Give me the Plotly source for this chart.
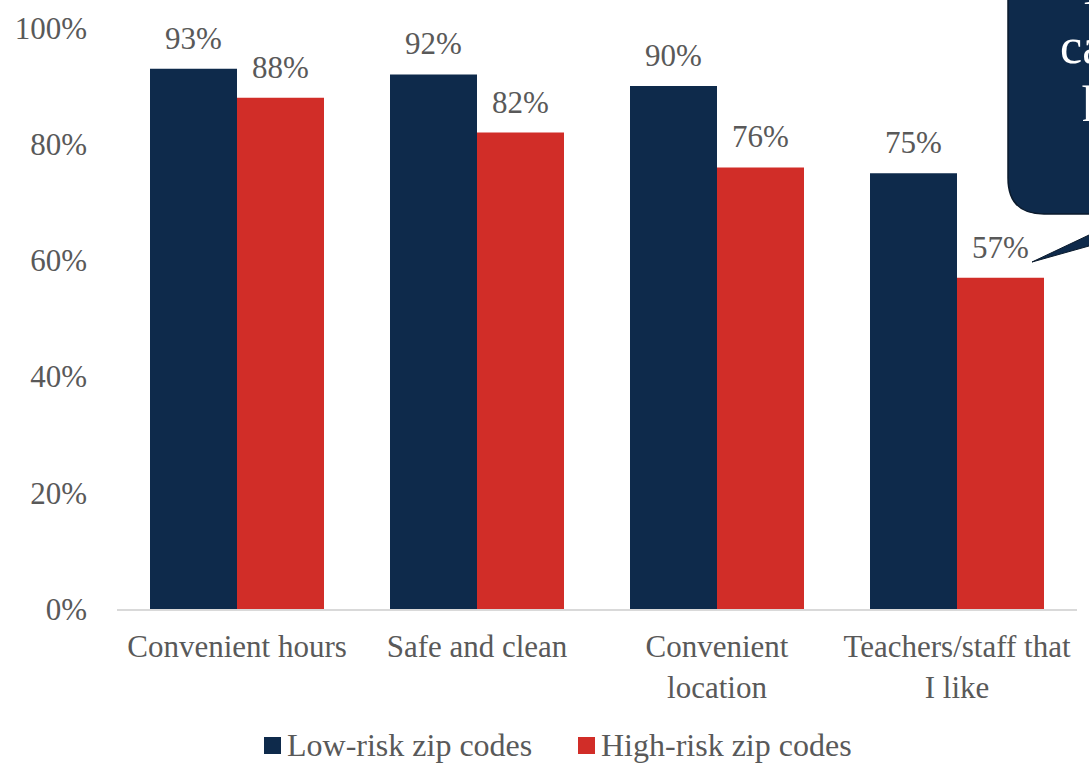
import plotly.graph_objects as go

categories = ["Convenient hours", "Safe and clean", "Convenient<br>location", "Teachers/staff that<br>I like"]
low_risk = [93, 92, 90, 75]
high_risk = [88, 82, 76, 57]
series_names = ["Low-risk zip codes", "High-risk zip codes"]
y_ticks = [0, 20, 40, 60, 80, 100]
y_tick_labels = ["0%", "20%", "40%", "60%", "80%", "100%"]

NAVY = "#0e2a4b"
RED = "#d12d28"
GRAY = "#595959"
FONT = "Liberation Serif, Times New Roman, serif"
FS = 32

W, H = 1089, 765
L, R, T, B = 117, 12, 28, 156
PW, PH = W - L - R, H - T - B


def X(px):
    return (px - L) / PW


def Y(py):
    return (H - B - py) / PH


fig = go.Figure()
fig.add_trace(go.Bar(x=categories, y=low_risk, name=series_names[0],
                     marker=dict(color=NAVY, line=dict(width=0))))
fig.add_trace(go.Bar(x=categories, y=high_risk, name=series_names[1],
                     marker=dict(color=RED, line=dict(width=0))))

annotations = []
for vals, shift in ((low_risk, -43.5), (high_risk, 43.5)):
    for c, v in zip(categories, vals):
        annotations.append(dict(x=c, y=v, xref="x", yref="y", text=f"{v}%",
                                showarrow=False, xshift=shift, yshift=11,
                                yanchor="bottom", xanchor="center",
                                font=dict(family=FONT, size=FS - 1, color=GRAY)))

# callout (partially off-canvas)
shapes = []
pointer = (f"M {X(1032)},{Y(262)} L {X(1130)},{Y(215.6)} "
           f"L {X(1130)},{Y(234.5)} Z")
shapes.append(dict(type="path", xref="paper", yref="paper", path=pointer,
                   fillcolor=NAVY, line=dict(color="#0a1a2c", width=1), layer="above"))
box = (f"M {X(1008)},{Y(-20)} L {X(1008)},{Y(178)} "
       f"Q {X(1008)},{Y(214)} {X(1044)},{Y(214)} "
       f"L {X(1400)},{Y(214)} L {X(1400)},{Y(-20)} Z")
shapes.append(dict(type="path", xref="paper", yref="paper", path=box,
                   fillcolor=NAVY, line=dict(color="#0a1a2c", width=1.5), layer="above"))

callout_lines = [("In", 1081, -13), ("caregivers", 1058, 46), ("high-risk", 1080, 104)]
for txt, px, py in callout_lines:
    annotations.append(dict(x=X(px), y=Y(py), xref="paper", yref="paper", text=txt,
                            showarrow=False, xanchor="left", yanchor="middle",
                            font=dict(family=FONT, size=50, color="white")))

# manual legend
legend_items = [(series_names[0], NAVY, 264), (series_names[1], RED, 578)]
for name, col, px in legend_items:
    shapes.append(dict(type="rect", xref="paper", yref="paper",
                       x0=X(px), x1=X(px + 17), y0=Y(754), y1=Y(737),
                       fillcolor=col, line=dict(width=0)))
    annotations.append(dict(x=X(px + 21), y=Y(745), xref="paper", yref="paper",
                            text=name, showarrow=False, xanchor="left", yanchor="middle",
                            font=dict(family=FONT, size=FS, color=GRAY)))

fig.update_layout(
    width=W, height=H,
    margin=dict(l=L, r=R, t=T, b=B),
    barmode="group", bargap=0.275, bargroupgap=0,
    plot_bgcolor="white", paper_bgcolor="white",
    showlegend=False,
    annotations=annotations, shapes=shapes,
    font=dict(family=FONT, size=FS, color=GRAY),
)
fig.update_yaxes(range=[0, 100], tickvals=y_ticks, ticktext=y_tick_labels,
                 showgrid=False, zeroline=False, showline=False, ticks="",
                 ticklabelstandoff=29,
                 tickfont=dict(family=FONT, size=FS - 1, color=GRAY))
fig.update_xaxes(showline=True, linecolor="#d9d9d9", linewidth=2, ticks="",
                 ticklabelstandoff=9,
                 tickfont=dict(family=FONT, size=FS - 1, color=GRAY))

fig.write_html("out.html")
